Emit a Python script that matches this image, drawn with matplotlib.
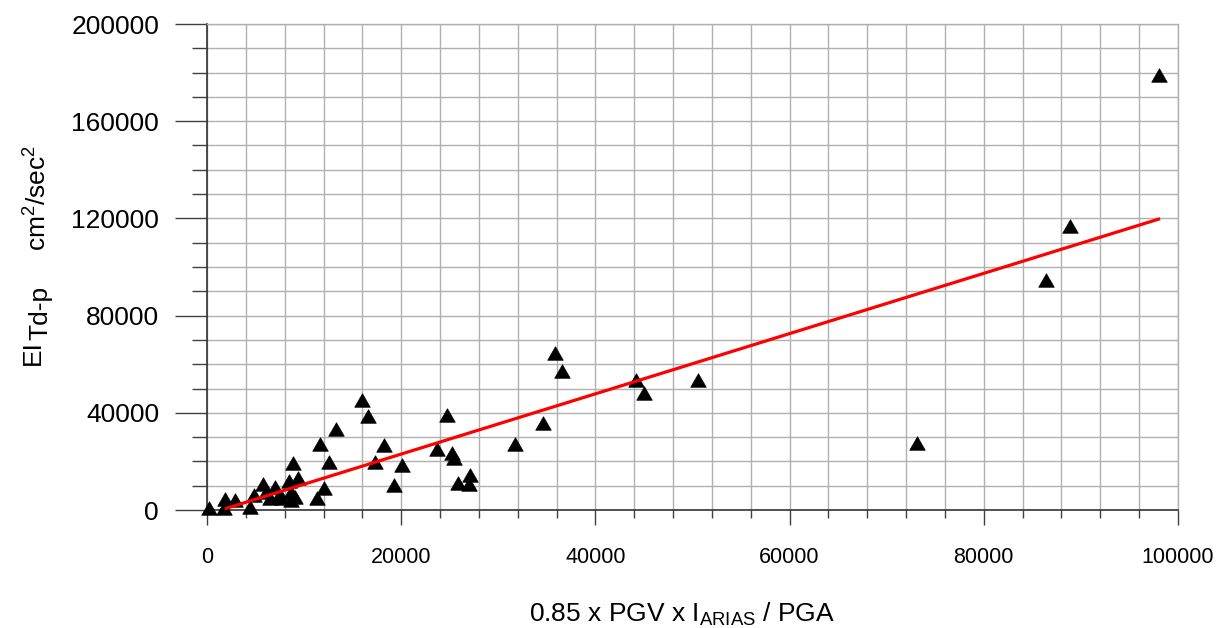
import matplotlib
matplotlib.use("Agg")
import matplotlib.pyplot as plt
from matplotlib.ticker import MultipleLocator, FixedLocator, StrMethodFormatter

plt.rcParams['font.family'] = ['Liberation Sans', 'DejaVu Sans']
plt.rcParams['mathtext.fontset'] = 'custom'
plt.rcParams['mathtext.rm'] = 'Liberation Sans'
plt.rcParams['mathtext.it'] = 'Liberation Sans:italic'
plt.rcParams['mathtext.bf'] = 'Liberation Sans:bold'

# Observed records: 0.85*PGV*I_Arias/PGA vs. EI_Td-p (cm^2/sec^2)
pgv_ia_pga = [200, 1800, 1850, 2900, 4400, 4800, 5800, 6100, 6500, 7000,
              7300, 7700, 8400, 8700, 8700, 9100, 9400, 8900, 11300, 12100,
              11600, 12600, 13300, 16000, 16600, 17300, 18200, 19300, 20100, 23700,
              24700, 25200, 25400, 25900, 27100, 27000, 31700, 34600, 35800, 36600,
              44200, 45000, 50600, 73100, 86400, 88900, 98000]
ei_td_p = [700, 800, 4400, 4100, 1300, 6000, 10500, 7600, 4800, 9600,
           5500, 4800, 11800, 7500, 4300, 5500, 13000, 19200, 4800, 9200,
           27000, 19700, 33500, 45300, 38700, 19800, 26700, 10300, 18500, 25000,
           38900, 23300, 21300, 11000, 14400, 10600, 27200, 36000, 64800, 57400,
           53500, 48300, 53500, 27400, 94600, 116700, 179000]

# Linear trend line end points
trend_x = [2000, 98000]
trend_y = [700, 119700]

x_major = [0, 20000, 40000, 60000, 80000, 100000]
y_major = [0, 40000, 80000, 120000, 160000, 200000]

W, H = 1225, 628
fig = plt.figure(figsize=(W / 100, H / 100), dpi=100)
ax = fig.add_axes([207 / W, 1 - 510 / H, (1178 - 207) / W, (510 - 24) / H])

grid_c = '#b0b0b0'
ax.set_xlim(0, 100000)
ax.set_ylim(0, 200000)
ax.xaxis.set_major_locator(FixedLocator(x_major))
ax.yaxis.set_major_locator(FixedLocator(y_major))
ax.xaxis.set_minor_locator(MultipleLocator(4000))
ax.yaxis.set_minor_locator(MultipleLocator(10000))
ax.xaxis.set_major_formatter(StrMethodFormatter('{x:.0f}'))
ax.yaxis.set_major_formatter(StrMethodFormatter('{x:.0f}'))
ax.grid(which='both', color=grid_c, linewidth=1.0)
ax.set_axisbelow(True)

tick_c = '#404040'
ax.tick_params(axis='y', which='major', length=23, width=1, color=tick_c,
               labelsize=19, pad=11.5)
ax.tick_params(axis='y', which='minor', length=11, width=1, color=tick_c)
ax.tick_params(axis='x', which='major', length=11, width=1, color=tick_c,
               labelsize=15.5, pad=15.5)
ax.tick_params(axis='x', which='minor', length=5.5, width=1, color=tick_c)

for side in ('left', 'bottom'):
    ax.spines[side].set_color('#333333')
    ax.spines[side].set_linewidth(1.2)
for side in ('top', 'right'):
    ax.spines[side].set_color(grid_c)
    ax.spines[side].set_linewidth(1.0)

tri = [(0, 0.87), (-1, -0.87), (1, -0.87), (0, 0.87)]
ax.plot(pgv_ia_pga, ei_td_p, linestyle='none', marker=tri, markersize=11.2,
        color='black', markeredgewidth=0.5, zorder=3, clip_on=False)
ax.plot(trend_x, trend_y, color='#ff0000', linewidth=2.3, zorder=4)

ax.set_xlabel(r'0.85 x PGV x I$_{\mathrm{ARIAS}}$ / PGA', fontsize=19, va='baseline')
ax.xaxis.set_label_coords((682.5 - 207) / 971, (510 - 622) / 486)


def fx(px):
    return px / W


def fy(py):
    return 1 - py / H


ylab_kw = dict(rotation=90, rotation_mode='anchor', ha='left', va='baseline',
               fontsize=19)
fig.text(fx(40), fy(365), 'EI', **ylab_kw)
fig.text(fx(47), fy(340), 'Td-p', **ylab_kw)
fig.text(fx(47), fy(198), r'cm$^{2}$/sec$^{2}$',
         **{**ylab_kw, 'ha': 'center'})

fig.savefig('out.png', dpi=100)
